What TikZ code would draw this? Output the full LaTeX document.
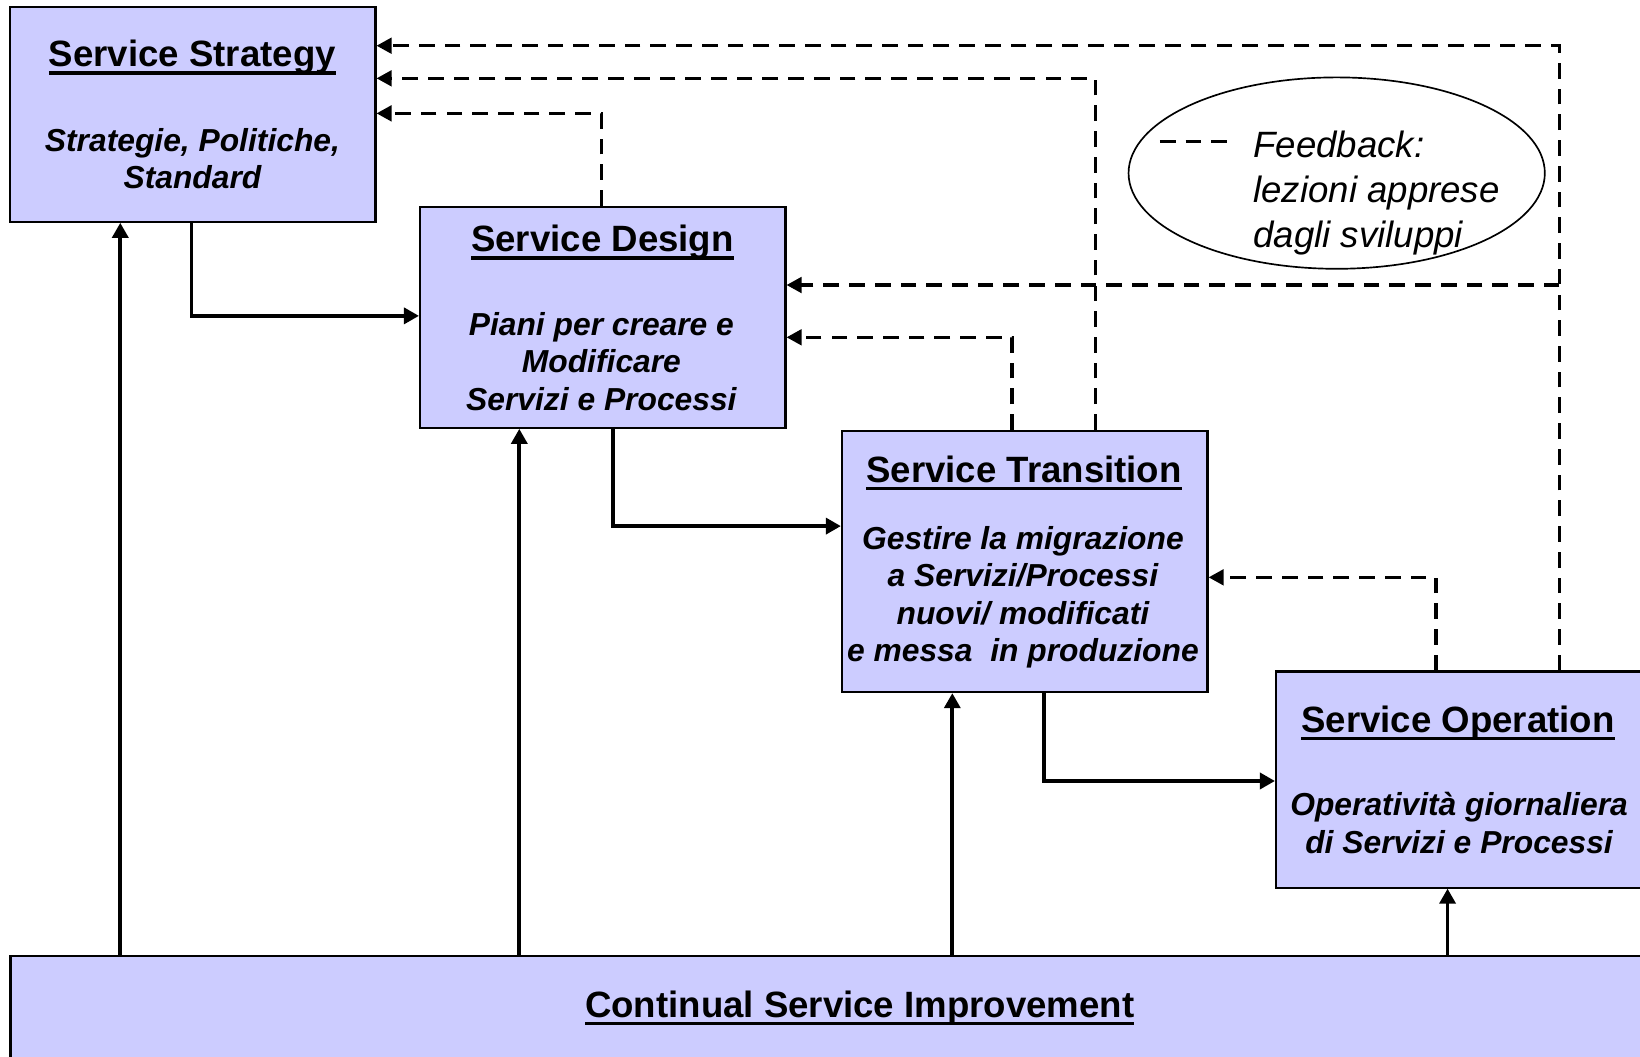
\documentclass[tikz,border=0pt]{standalone}
\usepackage{fontspec}
\setmainfont{Liberation Sans}
\usetikzlibrary{arrows.meta,shapes.geometric}
\definecolor{boxfill}{HTML}{CCCCFF}
\newsavebox{\ulbox}
% underlined heading
\newcommand{\ulttl}[1]{\sbox{\ulbox}{#1}\rlap{\usebox{\ulbox}}\rule[-0.22em]{\wd\ulbox}{0.1em}}
\tikzset{
  stagebox/.style={draw=black, line width=1pt, fill=boxfill, inner sep=0pt, anchor=north west},
  ttl/.style={font=\bfseries\fontsize{17.5pt}{21pt}\selectfont, inner sep=0pt, anchor=base},
  sub/.style={font=\bfseries\itshape\fontsize{15.2pt}{17.9pt}\selectfont, align=center, inner sep=0pt, anchor=base},
  flow/.style={line width=1.8pt, -{Triangle[length=7.2pt,width=7.6pt]}},
  fb/.style={line width=1.6pt, -{Triangle[length=7.2pt,width=7.4pt]}, dash pattern=on 7.5pt off 4.8pt},
}
\begin{document}
\begin{tikzpicture}[x=0.5pt,y=-0.5pt]
\useasboundingbox (0,0) rectangle (1568,1010);

% lifecycle stages
\node[stagebox, minimum width=174.75pt, minimum height=102.8pt]  (strat) at (8.5,5.4) {};
\node[stagebox, minimum width=174.7pt,  minimum height=105.65pt] (design) at (400.6,196.7) {};
\node[stagebox, minimum width=174.75pt, minimum height=124.85pt] (trans) at (804,411) {};
\node[stagebox, minimum width=174.25pt, minimum height=103.3pt]  (oper) at (1219,641) {};
\node[stagebox, minimum width=779.25pt, minimum height=60pt]     (csi) at (9,912.8) {};

% headings
\node[ttl] (stratT)  at (184,64)    {\ulttl{Service Strategy}};
\node[ttl] (designT) at (576,240.5) {\ulttl{Service Design}};
\node[ttl] (transT)  at (979,461)   {\ulttl{Service Transition}};
\node[ttl] (operT)   at (1394,700)  {\ulttl{Service Operation}};
\node[ttl] (csiT)    at (822,972.5) {\ulttl{Continual Service Improvement}};

% descriptions (anchored on the baseline of their last line)
\node[sub] (stratS)  at (184,180.5)  {Strategie, Politiche,\\Standard};
\node[sub] (designS) at (575,392.4)  {Piani per creare e\\Modificare\\Servizi e Processi};
\node[sub] (transS)  at (978,632.6)  {Gestire la migrazione\\a Servizi/Processi\\nuovi/ modificati\\e messa\ \ in produzione};
\node[sub] (operS)   at (1395,815.6) {Operatività giornaliera\\di Servizi e Processi};

% forward flow
\draw[flow] (strat.south -| 183,0) |- (design.west |- 0,302);
\draw[flow] (design.south -| 586,0) |- (trans.west |- 0,503);
\draw[flow] (trans.south -| 998,0) |- (oper.west |- 0,746.7);

% improvement inputs
\draw[flow] (csi.north -| 115,0)    -- (strat.south -| 115,0);
\draw[flow] (csi.north -| 496.5,0)  -- (design.south -| 496.5,0);
\draw[flow] (csi.north -| 910.5,0)  -- (trans.south -| 910.5,0);
\draw[flow] (csi.north -| 1384,0)   -- (oper.south -| 1384,0);

% feedback loops
\draw[fb] (design.north -| 575,0)  |- (strat.east |- 0,108.4);
\draw[fb] (trans.north -| 1047.5,0) |- (strat.east |- 0,74.9);
\draw[fb] (trans.north -| 967.5,0) |- (design.east |- 0,322.5);
\draw[fb] (oper.north -| 1491,0)   |- (strat.east |- 0,43.7);
\coordinate (branch) at (1491,272.5);
\draw[fb] (branch) -- (design.east |- branch);
\draw[fb] (oper.north -| 1373,0)   |- (trans.east |- 0,552);

% legend
\node[draw, ellipse, line width=0.8pt, minimum width=199pt, minimum height=91.5pt, inner sep=0pt] (legend) at (1278,165.5) {};
\coordinate (legA) at (1109,135);
\coordinate (legB) at (1180,135);
\draw[line width=1.5pt, dash pattern=on 7.5pt off 4.8pt] (legA) -- (legB);
\node[font=\itshape\fontsize{17.5pt}{21.5pt}\selectfont, align=left, inner sep=0pt, anchor=base west] (legT) at (1198,237) {Feedback:\\lezioni apprese\\dagli sviluppi};
\end{tikzpicture}
\end{document}
